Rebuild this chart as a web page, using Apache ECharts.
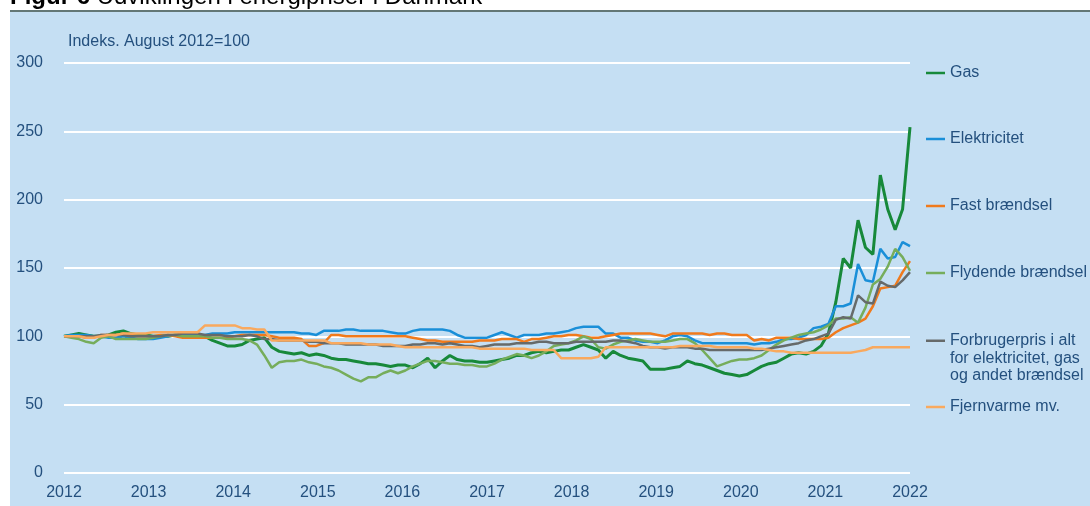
<!DOCTYPE html>
<html>
<head>
<meta charset="utf-8">
<script src="https://cdn.jsdelivr.net/npm/echarts@6/dist/echarts.min.js"></script>
<style>
  html, body { margin: 0; padding: 0; background: #fff; }
  #chart { width: 1090px; height: 506px; }
</style>
</head>
<body>
<div id="chart"></div>
<script>
// monthly index, August 2012 = 100, Aug 2012 - Feb 2022
const months = [];
for (let y = 2012, m = 8; months.length < 115; m++) {
  if (m > 12) { m = 1; y++; }
  months.push(y + '-' + String(m).padStart(2, '0'));
}

const yearLabels = [2012, 2022]; // first and last tick of the year axis

const gas = [
  100, 101, 102, 101, 100, 100, 101, 103, 104, 102,
  101, 101, 100, 100, 100, 101, 101, 100, 101, 100,
  97, 95, 93, 93, 94, 97, 98, 99, 92, 89,
  88, 87, 88, 86, 87, 86, 84, 83, 83, 82,
  81, 80, 80, 79, 78, 79, 79, 77, 80, 84,
  77, 82, 86, 83, 82, 82, 81, 81, 82, 83,
  84, 86, 86, 88, 89, 88, 89, 90, 90, 92,
  94, 92, 90, 84, 89, 86, 84, 83, 82, 76,
  76, 76, 77, 78, 82, 80, 79, 77, 75, 73,
  72, 71, 72, 75, 78, 80, 81, 84, 87, 88,
  87, 89, 93, 102, 125, 157, 150, 185, 165, 160,
  218, 193, 178, 193, 253
];

const elektricitet = [
  100, 101, 101, 101, 100, 100, 99, 99, 100, 99,
  98, 98, 98, 99, 100, 101, 101, 101, 101, 101,
  102, 102, 102, 103, 103, 103, 103, 103, 103, 103,
  103, 103, 102, 102, 101, 104, 104, 104, 105, 105,
  104, 104, 104, 104, 103, 102, 102, 104, 105, 105,
  105, 105, 104, 101, 99, 99, 99, 99, 101, 103,
  101, 99, 101, 101, 101, 102, 102, 103, 104, 106,
  107, 107, 107, 102, 102, 99, 99, 97, 96, 96,
  95, 97, 100, 101, 100, 97, 95, 95, 95, 95,
  95, 95, 95, 94, 95, 95, 96, 98, 98, 99,
  101, 106, 107, 109, 122, 122, 124, 153, 141, 140,
  164, 157, 158, 169, 166
];

const fastBraendsel = [
  100, 100, 100, 99, 99, 101, 101, 101, 102, 101,
  100, 100, 100, 101, 101, 100, 99, 99, 99, 99,
  99, 99, 99, 100, 101, 101, 101, 101, 100, 99,
  99, 99, 98, 93, 93, 95, 101, 101, 100, 100,
  100, 100, 100, 100, 100, 100, 100, 99, 98, 97,
  97, 96, 96, 96, 96, 96, 97, 97, 97, 98,
  98, 98, 96, 98, 98, 99, 100, 100, 101, 101,
  100, 99, 99, 100, 101, 102, 102, 102, 102, 102,
  101, 100, 102, 102, 102, 102, 102, 101, 102, 102,
  101, 101, 101, 97, 98, 97, 99, 99, 99, 98,
  98, 98, 98, 99, 103, 106, 108, 110, 113, 122,
  135, 136, 137, 147, 155
];

const flydendeBraendsel = [
  100, 99, 98, 96, 95, 99, 100, 98, 98, 98,
  98, 98, 99, 100, 101, 101, 100, 100, 100, 100,
  99, 99, 98, 98, 98, 97, 94, 86, 77, 81,
  82, 82, 83, 81, 80, 78, 77, 75, 72, 69,
  67, 70, 70, 73, 75, 73, 75, 78, 80, 82,
  82, 81, 80, 80, 79, 79, 78, 78, 80, 83,
  85, 87, 86, 84, 86, 89, 93, 94, 95, 97,
  100, 98, 92, 91, 94, 96, 97, 98, 97, 96,
  96, 96, 97, 98, 98, 95, 90, 84, 78, 80,
  82, 83, 83, 84, 86, 90, 94, 97, 99, 101,
  102, 103, 105, 108, 113, 113, 114, 110, 121, 138,
  142, 151, 164, 158, 148
];

const forbrugerpris = [
  100, 100, 100, 100, 100, 101, 101, 101, 101, 100,
  100, 100, 100, 100, 101, 101, 102, 102, 102, 101,
  101, 101, 100, 100, 100, 101, 100, 98, 98, 97,
  97, 97, 97, 96, 96, 95, 95, 95, 94, 94,
  94, 94, 94, 93, 93, 93, 93, 94, 94, 95,
  95, 94, 95, 94, 93, 93, 92, 93, 94, 94,
  94, 95, 95, 95, 96, 96, 95, 95, 95, 96,
  96, 96, 96, 96, 97, 97, 96, 95, 93, 92,
  92, 91, 92, 92, 92, 91, 91, 90, 90, 90,
  90, 90, 90, 90, 90, 91, 92, 93, 94, 95,
  97, 98, 100, 102, 112, 114, 113, 130, 125, 124,
  140, 137, 136, 141, 147
];

const fjernvarme = [
  100, 100, 100, 99, 99, 100, 101, 101, 102, 102,
  102, 102, 103, 103, 103, 103, 103, 103, 103, 108,
  108, 108, 108, 108, 106, 106, 105, 105, 97, 97,
  97, 97, 97, 97, 97, 97, 95, 95, 95, 95,
  95, 94, 94, 94, 94, 93, 92, 92, 92, 92,
  92, 92, 92, 92, 92, 92, 91, 91, 91, 91,
  91, 91, 91, 90, 90, 90, 90, 84, 84, 84,
  84, 84, 85, 92, 92, 92, 92, 92, 92, 92,
  92, 92, 92, 93, 93, 93, 93, 93, 92, 92,
  92, 92, 92, 91, 91, 90, 89, 89, 88, 88,
  88, 88, 88, 88, 88, 88, 88, 89, 90, 92,
  92, 92, 92, 92, 92
];

const seriesNames = [
  'Gas',
  'Elektricitet',
  'Fast brændsel',
  'Flydende brændsel',
  'Forbrugerpris i alt for elektricitet, gas og andet brændsel',
  'Fjernvarme mv.'
];
const seriesData = [gas, elektricitet, fastBraendsel, flydendeBraendsel, forbrugerpris, fjernvarme];
const colors = ['#17893a', '#1a8fd8', '#f07a1c', '#76ad5b', '#666a6a', '#f9a95e'];
const legendY = [73, 139, 206, 273, 341, 407];

const textColor = '#24507e';
const font = '"Liberation Sans", Arial, sans-serif';

const chart = echarts.init(document.getElementById('chart'), null, { renderer: 'canvas' });

// the long label: two blank lines on top keep the legend line level with its first text line
const legends = seriesNames.map((name, i) => {
  const multi = i === 4;
  return {
    data: [name],
    left: 926,
    top: multi ? legendY[i] - 44 : legendY[i] - 8,
    padding: 0,
    icon: 'rect',
    itemWidth: 19,
    itemHeight: 2.5,
    selectedMode: false,
    formatter: multi ? '\n\nForbrugerpris i alt\nfor elektricitet, gas\nog andet brændsel' : '{name}',
    textStyle: {
      color: textColor,
      fontSize: 16,
      fontFamily: font,
      lineHeight: multi ? 17.5 : 16
    }
  };
});

const option = {
  animation: false,
  backgroundColor: '#c5dff3',
  color: colors,
  grid: { left: 64, right: 180, top: 63, bottom: 33 },
  legend: legends,
  xAxis: [
    {
      type: 'category',
      data: months,
      boundaryGap: false,
      show: false
    },
    {
      type: 'value',
      position: 'bottom',
      min: yearLabels[0],
      max: yearLabels[1],
      interval: 1,
      axisLine: { show: false },
      axisTick: { show: false },
      splitLine: { show: false },
      axisLabel: {
        color: textColor,
        fontSize: 16,
        fontFamily: font,
        margin: 12,
        formatter: v => String(v)
      }
    }
  ],
  yAxis: {
    type: 'value',
    min: 0,
    max: 300,
    interval: 50,
    axisLine: { show: false },
    axisTick: { show: false },
    axisLabel: { color: textColor, fontSize: 16, fontFamily: font, margin: 21 },
    splitLine: { lineStyle: { color: '#ffffff', width: 2 } }
  },
  graphic: [
    // white page strip above and left of the blue panel
    { type: 'rect', left: 0, top: 0, shape: { width: 1090, height: 12 }, style: { fill: '#ffffff' } },
    { type: 'rect', left: 0, top: 0, shape: { width: 10, height: 506 }, style: { fill: '#ffffff' } },
    { type: 'line', shape: { x1: 10, y1: 11, x2: 1090, y2: 11 }, style: { stroke: '#2f4a47', lineWidth: 1.5 } },
    {
      type: 'text',
      x: 10,
      y: -3,
      style: {
        text: '{b|Figur 6} Udviklingen i energipriser i Danmark',
        font: '24px ' + font,
        fill: '#000',
        verticalAlign: 'middle',
        rich: { b: { fontWeight: 'bold', fontSize: 24, fontFamily: font, fill: '#000' } }
      }
    },
    {
      type: 'text',
      x: 68,
      y: 42,
      style: {
        text: 'Indeks. August 2012=100',
        font: '16px ' + font,
        fill: textColor,
        verticalAlign: 'middle'
      }
    }
  ],
  series: seriesNames.map((name, i) => ({
    name,
    type: 'line',
    xAxisIndex: 0,
    data: seriesData[i],
    showSymbol: false,
    lineStyle: { width: i === 0 ? 3 : 2.5, color: colors[i] },
    itemStyle: { color: colors[i] },
    z: i === 5 ? 3 : 2
  }))
};

chart.setOption(option);
window.addEventListener('resize', () => chart.resize());
</script>
</body>
</html>
